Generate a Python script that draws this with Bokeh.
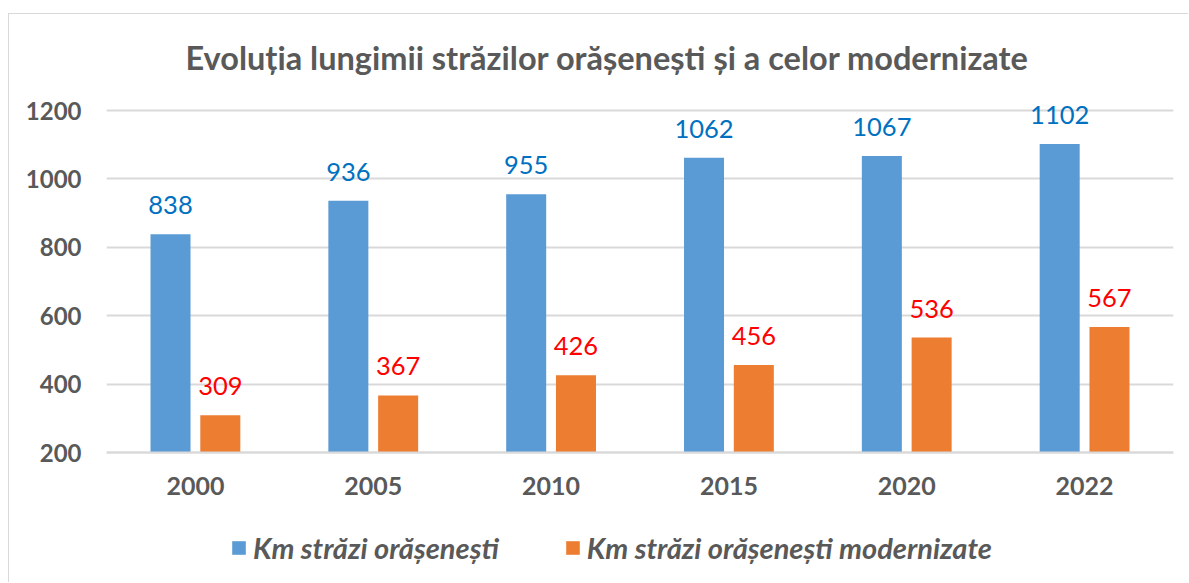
from bokeh.plotting import figure
from bokeh.models import (ColumnDataSource, FactorRange, Range1d, LabelSet, Legend,
                          LegendItem, FixedTicker, Title)
from bokeh.core.properties import value
from bokeh.transform import dodge
from bokeh.embed import file_html
from bokeh.resources import INLINE

years = ["2000", "2005", "2010", "2015", "2020", "2022"]
km_total = [838, 936, 955, 1062, 1067, 1102]
km_modern = [309, 367, 426, 456, 536, 567]
y_ticks = [200, 400, 600, 800, 1000, 1200]
title_text = "Evoluția lungimii străzilor orășenești și a celor modernizate"
series_names = ["Km străzi orășenești", "Km străzi orășenești modernizate"]

FONT = "Lato"
GREY = "#595959"
BLUE = "#5B9BD5"
ORANGE = "#ED7D31"

# layout (pixels inside the figure)
W, H = 1180, 569
TOP, BOTTOM, LEFT, RIGHT = 70, 0, 97, 16
frame_h = H - TOP - BOTTOM
px_per_unit = 0.342
y200_px = 438                      # 200 line, from figure top
y_end = 200 + (y200_px - TOP) / px_per_unit
y_start = y_end - frame_h / px_per_unit

src = ColumnDataSource(dict(year=years, total=km_total, modern=km_modern,
                            total_s=[str(v) for v in km_total],
                            modern_s=[str(v) for v in km_modern]))

p = figure(x_range=FactorRange(*years), y_range=Range1d(y_start, y_end),
           width=W, height=H, output_backend="svg", toolbar_location=None,
           min_border_left=LEFT, min_border_right=RIGHT, min_border_top=TOP,
           min_border_bottom=BOTTOM)
p.styles = {"margin-top": "13px", "margin-left": "8px",
            "border-top": "1px solid #D9D9D9", "border-left": "1px solid #D9D9D9"}
p.outline_line_color = None
p.background_fill_color = "white"
p.border_fill_color = "white"

t = Title(text=title_text, align="left", offset=79, text_font=FONT, text_font_size="32.5px",
          text_font_style="bold", text_color=GREY, standoff=15)
p.add_layout(t, "above")

r1 = p.vbar(x=dodge("year", -0.14, range=p.x_range), top="total", bottom=200, width=0.225,
            source=src, fill_color=BLUE, line_color=None)
r2 = p.vbar(x=dodge("year", 0.14, range=p.x_range), top="modern", bottom=200, width=0.225,
            source=src, fill_color=ORANGE, line_color=None)

l1 = LabelSet(x=dodge("year", -0.14, range=p.x_range), y="total", text="total_s", source=src,
              y_offset=20, text_align="center", text_baseline="alphabetic",
              text_font=value(FONT), text_font_size=value("25.5px"), text_color=value("#0070C0"))
l2 = LabelSet(x=dodge("year", 0.14, range=p.x_range), y="modern", text="modern_s", source=src,
              y_offset=20, text_align="center", text_baseline="alphabetic",
              text_font=value(FONT), text_font_size=value("25.5px"), text_color=value("#FF0000"))
p.add_layout(l1)
p.add_layout(l2)

for ax in (p.xaxis, p.yaxis):
    ax.major_tick_line_color = None
    ax.minor_tick_line_color = None
    ax.major_tick_out = 0
    ax.major_tick_in = 0
    ax.minor_tick_out = 0
    ax.major_label_text_font = FONT
    ax.major_label_text_font_size = "24px"
    ax.major_label_text_font_style = "bold"
    ax.major_label_text_color = GREY

p.yaxis.ticker = FixedTicker(ticks=y_ticks)
p.yaxis.axis_line_color = None
p.yaxis.major_label_standoff = 25

p.xaxis.fixed_location = 200
p.xaxis.axis_line_color = "#D9D9D9"
p.xaxis.axis_line_width = 2
p.xaxis.major_label_standoff = 24
p.xaxis.major_label_text_font_size = "25px"

p.xgrid.grid_line_color = None
p.ygrid.grid_line_color = "#D9D9D9"
p.ygrid.grid_line_width = 2
p.ygrid.ticker = FixedTicker(ticks=y_ticks)

legend = Legend(items=[LegendItem(label=series_names[0], renderers=[r1]),
                       LegendItem(label=series_names[1], renderers=[r2])],
                orientation="horizontal", location=(124, 18), padding=0, margin=0,
                spacing=65, glyph_width=17, glyph_height=17, label_standoff=6,
                label_text_font=FONT, label_text_font_size="29px",
                label_text_font_style="bold italic", label_text_color=GREY,
                border_line_color=None, background_fill_alpha=0)
p.add_layout(legend, "center")

open("out.html", "w").write(file_html(p, INLINE))
